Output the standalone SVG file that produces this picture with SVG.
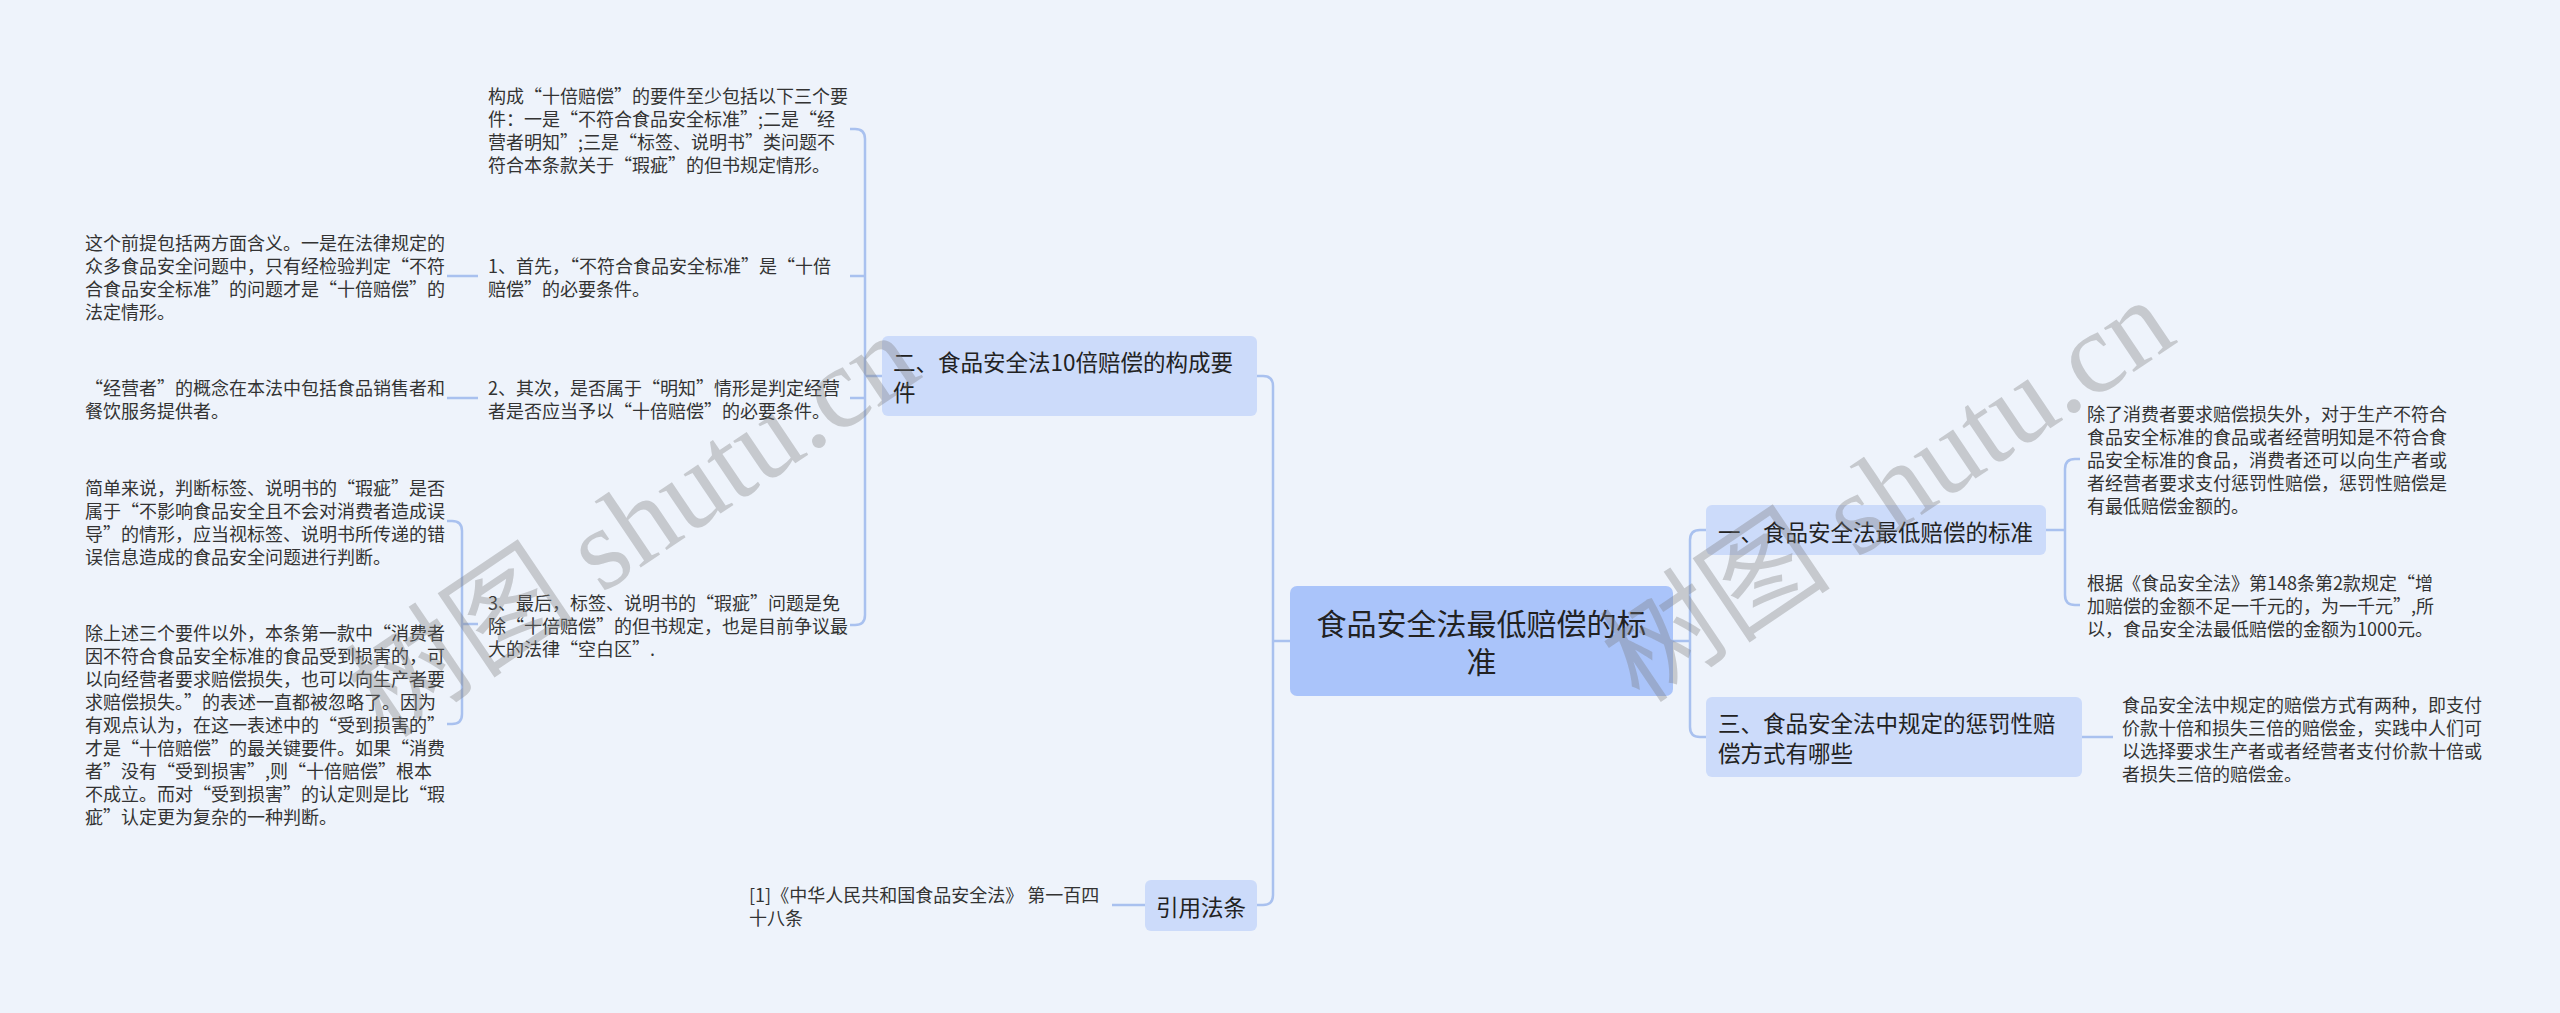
<svg xmlns="http://www.w3.org/2000/svg" width="2560" height="1013" viewBox="0 0 2560 1013">
<style>
text{font-family:"Noto Sans CJK SC","Microsoft YaHei",sans-serif;dominant-baseline:central;fill:#333}
.leaf{font-size:18px}
.n1{font-size:22.5px;fill:#222}
.root{font-size:30px;fill:#222}
.r1{fill:#ccdbfa}
.r0{fill:#aac4fa}
.c{fill:none;stroke:#a9c1ef;stroke-width:2.5}
.wm{font-family:"Liberation Serif","Noto Sans CJK SC",serif;font-size:116px;fill:#7a7a7a;fill-opacity:0.35;dominant-baseline:auto}
</style>
<rect width="2560" height="1013" fill="#eef3fb"/>
<g id="connectors">
<path class="c" d="M1673 641H1690M1706 530H1700Q1690 530 1690 540V727Q1690 737 1700 737H1706"/>
<path class="c" d="M1290 641H1273M1257 376H1263Q1273 376 1273 386V895Q1273 905 1263 905H1257"/>
<path class="c" d="M882 376H865M850 129H855Q865 129 865 139V615Q865 625 855 625H850M850 276H865M850 398H865"/>
<path class="c" d="M447 276H478M447 398H478"/>
<path class="c" d="M478 624H462M447 521H452Q462 521 462 531V714Q462 724 452 724H447"/>
<path class="c" d="M2046 530H2065M2080 459H2075Q2065 459 2065 469V595Q2065 605 2075 605H2080"/>
<path class="c" d="M2082 737H2113"/>
<path class="c" d="M1145 905H1112"/>
</g>
<g id="root">
<rect class="r0" x="1290" y="586" width="383" height="110" rx="7"/>
<text class="root" text-anchor="middle"><tspan x="1481.5" y="622">食品安全法最低赔偿的标</tspan><tspan x="1481.5" y="660">准</tspan></text>
</g>
<g id="n-yi">
<rect class="r1" x="1706" y="505" width="340" height="50" rx="6"/>
<text class="n1" x="1718" y="531">一、食品安全法最低赔偿的标准</text>
</g>
<g id="n-san">
<rect class="r1" x="1706" y="697" width="376" height="80" rx="6"/>
<text class="n1"><tspan x="1718" y="722">三、食品安全法中规定的惩罚性赔</tspan><tspan x="1718" y="752">偿方式有哪些</tspan></text>
</g>
<g id="n-er">
<rect class="r1" x="882" y="336" width="375" height="80" rx="6"/>
<text class="n1"><tspan x="893" y="361">二、食品安全法10倍赔偿的构成要</tspan><tspan x="893" y="391">件</tspan></text>
</g>
<g id="n-yinyong">
<rect class="r1" x="1145" y="880" width="112" height="51" rx="6"/>
<text class="n1" x="1201" y="906" text-anchor="middle">引用法条</text>
</g>
<g id="t-a">
<text class="leaf"><tspan x="488" y="95">构成“十倍赔偿”的要件至少包括以下三个要</tspan><tspan x="488" y="118">件：一是“不符合食品安全标准”;二是“经</tspan><tspan x="488" y="141">营者明知”;三是“标签、说明书”类问题不</tspan><tspan x="488" y="164">符合本条款关于“瑕疵”的但书规定情形。</tspan></text>
</g>
<g id="t-1">
<text class="leaf"><tspan x="488" y="265">1、首先，“不符合食品安全标准”是“十倍</tspan><tspan x="488" y="288">赔偿”的必要条件。</tspan></text>
</g>
<g id="t-b">
<text class="leaf"><tspan x="85" y="242">这个前提包括两方面含义。一是在法律规定的</tspan><tspan x="85" y="265">众多食品安全问题中，只有经检验判定“不符</tspan><tspan x="85" y="288">合食品安全标准”的问题才是“十倍赔偿”的</tspan><tspan x="85" y="311">法定情形。</tspan></text>
</g>
<g id="t-2">
<text class="leaf"><tspan x="488" y="387">2、其次，是否属于“明知”情形是判定经营</tspan><tspan x="488" y="410">者是否应当予以“十倍赔偿”的必要条件。</tspan></text>
</g>
<g id="t-c">
<text class="leaf"><tspan x="85" y="387">“经营者”的概念在本法中包括食品销售者和</tspan><tspan x="85" y="410">餐饮服务提供者。</tspan></text>
</g>
<g id="t-3">
<text class="leaf"><tspan x="488" y="602">3、最后，标签、说明书的“瑕疵”问题是免</tspan><tspan x="488" y="625">除“十倍赔偿”的但书规定，也是目前争议最</tspan><tspan x="488" y="648">大的法律“空白区”.</tspan></text>
</g>
<g id="t-d">
<text class="leaf"><tspan x="85" y="487">简单来说，判断标签、说明书的“瑕疵”是否</tspan><tspan x="85" y="510">属于“不影响食品安全且不会对消费者造成误</tspan><tspan x="85" y="533">导”的情形，应当视标签、说明书所传递的错</tspan><tspan x="85" y="556">误信息造成的食品安全问题进行判断。</tspan></text>
</g>
<g id="t-e">
<text class="leaf"><tspan x="85" y="632">除上述三个要件以外，本条第一款中“消费者</tspan><tspan x="85" y="655">因不符合食品安全标准的食品受到损害的，可</tspan><tspan x="85" y="678">以向经营者要求赔偿损失，也可以向生产者要</tspan><tspan x="85" y="701">求赔偿损失。”的表述一直都被忽略了。因为</tspan><tspan x="85" y="724">有观点认为，在这一表述中的“受到损害的”</tspan><tspan x="85" y="747">才是“十倍赔偿”的最关键要件。如果“消费</tspan><tspan x="85" y="770">者”没有“受到损害”,则“十倍赔偿”根本</tspan><tspan x="85" y="793">不成立。而对“受到损害”的认定则是比“瑕</tspan><tspan x="85" y="816">疵”认定更为复杂的一种判断。</tspan></text>
</g>
<g id="t-ref">
<text class="leaf"><tspan x="749" y="894">[1]《中华人民共和国食品安全法》 第一百四</tspan><tspan x="749" y="917">十八条</tspan></text>
</g>
<g id="t-r1">
<text class="leaf"><tspan x="2087" y="413">除了消费者要求赔偿损失外，对于生产不符合</tspan><tspan x="2087" y="436">食品安全标准的食品或者经营明知是不符合食</tspan><tspan x="2087" y="459">品安全标准的食品，消费者还可以向生产者或</tspan><tspan x="2087" y="482">者经营者要求支付惩罚性赔偿，惩罚性赔偿是</tspan><tspan x="2087" y="505">有最低赔偿金额的。</tspan></text>
</g>
<g id="t-r2">
<text class="leaf"><tspan x="2087" y="582">根据《食品安全法》第148条第2款规定“增</tspan><tspan x="2087" y="605">加赔偿的金额不足一千元的，为一千元”,所</tspan><tspan x="2087" y="628">以，食品安全法最低赔偿的金额为1000元。</tspan></text>
</g>
<g id="t-r3">
<text class="leaf"><tspan x="2122" y="704">食品安全法中规定的赔偿方式有两种，即支付</tspan><tspan x="2122" y="727">价款十倍和损失三倍的赔偿金，实践中人们可</tspan><tspan x="2122" y="750">以选择要求生产者或者经营者支付价款十倍或</tspan><tspan x="2122" y="773">者损失三倍的赔偿金。</tspan></text>
</g>
<g id="watermarks">
<text class="wm" transform="translate(385 740) rotate(-34)">树图 shutu.cn</text>
<text class="wm" transform="translate(1640 705) rotate(-34)">树图 shutu.cn</text>
</g>
</svg>
